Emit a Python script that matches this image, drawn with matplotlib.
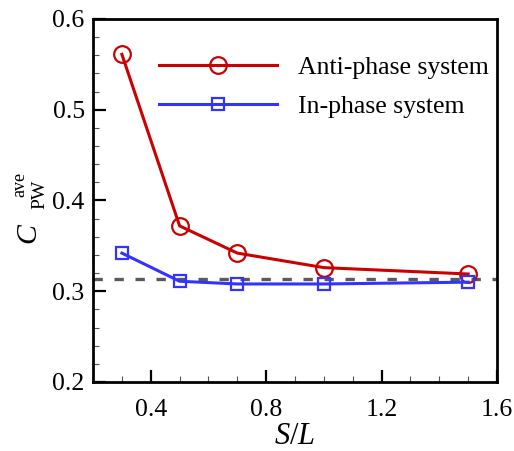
import matplotlib
matplotlib.use("Agg")
import matplotlib.pyplot as plt
from matplotlib.ticker import MultipleLocator

plt.rcParams['font.family'] = 'Liberation Serif'
plt.rcParams['mathtext.fontset'] = 'custom'
plt.rcParams['mathtext.rm'] = 'Liberation Serif'
plt.rcParams['mathtext.it'] = 'Liberation Serif:italic'

s_over_l = [0.3, 0.5, 0.7, 1.0, 1.5]
anti_phase = [0.561, 0.372, 0.342, 0.326, 0.319]
in_phase = [0.342, 0.311, 0.308, 0.308, 0.310]
reference_level = 0.314
labels = ["Anti-phase system", "In-phase system"]

W, H = 514, 451
fig = plt.figure(figsize=(W / 100, H / 100), dpi=100)
ax = fig.add_axes([0.181, 0.153, 0.786, 0.805])

ax.axhline(reference_level, color='#5a5a5a', lw=2.4, ls=(0, (2.8, 3.5)), zorder=1)
ax.plot(s_over_l, anti_phase, color='#CC0000', lw=2.2, marker='o', ms=12,
        mfc='none', mec='#CC0000', mew=1.6, label=labels[0], zorder=3)
ax.plot(s_over_l, in_phase, color='#3333FF', lw=2.2, marker='s', ms=8.5,
        mfc='none', mec='#3333FF', mew=1.6, label=labels[1], zorder=3)

ax.set_xlim(0.2, 1.6)
ax.set_ylim(0.2, 0.6)
ax.xaxis.set_minor_locator(MultipleLocator(0.1))
ax.yaxis.set_minor_locator(MultipleLocator(0.02))
ax.set_xticks([0.4, 0.8, 1.2, 1.6])
ax.set_xticklabels(['0.4', '0.8', '1.2', '1.6'])
ax.set_yticks([0.2, 0.3, 0.4, 0.5, 0.6])
ax.set_yticklabels(['0.2', '0.3', '0.4', '0.5', '0.6'])
ax.tick_params(which='major', direction='in', length=9, width=1.6, labelsize=18.5,
               top=False, right=False)
ax.tick_params(axis='x', which='major', pad=12)
ax.tick_params(axis='y', which='major', pad=6)
ax.tick_params(which='minor', direction='in', length=4.5, width=0.8, color='#555555',
               top=False, right=False)
for sp in ax.spines.values():
    sp.set_linewidth(2)

ax.set_xlabel(r'$S/L$', fontsize=22, labelpad=1)

# y-axis label C_PW^ave built from rotated text pieces (reads bottom to top)
def px(x, y):
    return x / W, (H - y) / H

kw = dict(rotation=90, rotation_mode='anchor', ha='left', va='baseline')
fig.text(*px(35, 243), 'C', fontsize=21.5, style='italic', **kw)
fig.text(*px(44, 209), 'PW', fontsize=14, **kw)
fig.text(*px(24, 197), 'ave', fontsize=13, **kw)

leg = ax.legend(loc='upper left', frameon=False, fontsize=18.5, handlelength=4.6,
                handletextpad=0.8, labelspacing=0.62, bbox_to_anchor=(0.163, 0.898),
                borderaxespad=0.0, borderpad=0.0)

fig.savefig('out.png', dpi=100)
